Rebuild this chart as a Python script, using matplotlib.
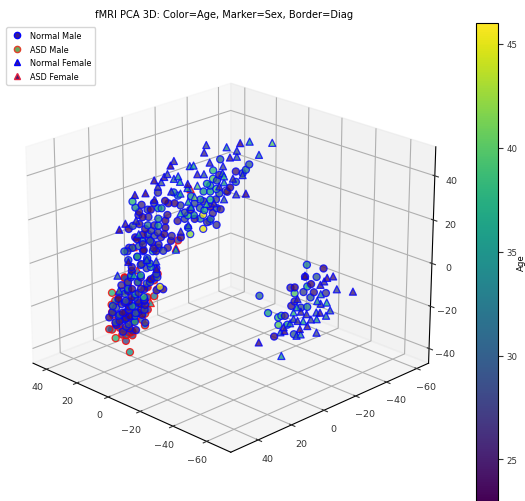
import matplotlib
matplotlib.use('Agg')
import matplotlib.pyplot as plt
from matplotlib.lines import Line2D

# normal female
nf_x = [-1.7,-1.4,-8.0,-12.2,-14.9,-21.6,-17.6,-2.7,-9.0,-11.2,
        -11.2,8.0,9.1,3.4,2.1,6.5,10.0,11.0,14.1,11.8,
        12.9,8.1,6.4,3.7,0.8,-1.2,-6.8,-6.5,-9.8,-12.7,
        -7.4,0.8,-7.4,-5.5,3.9,20.0,16.5,14.1,8.8,6.2,
        1.6,3.5,2.7,-1.7,-4.3,-7.4,-10.8,-13.7,24.9,23.1,
        19.5,6.3,3.5,19.0,6.2,24.4,23.6,20.5,19.2,15.2,
        12.4,12.2,6.2,-32.4,-39.1,-40.8,-37.0,-38.3,-42.2,-47.2,
        -37.3,-29.9,-36.2,-39.1,-37.3,-40.3,-35.7,-37.0,-38.8,-34.4,
        -36.0,-29.6,-31.1,-28.6,-33.2,-30.1,-31.6,-27.5,-25.5,-24.5,
        -26.0,-36.0,-31.1,-29.6,-18.0,-25.2,-28.6,-30.6,-32.7]
nf_y = [-2,-1,-8,-12,-15,-22,-18,-3,-9,-11,
        -11,8,9,3,2,7,10,11,14,12,
        13,8,6,4,1,-1,-7,-7,-10,-13,
        -7,1,-7,-6,4,20,17,14,9,6,
        2,4,3,-2,-4,-7,-11,-14,25,23,
        20,6,4,19,6,27,27,24,22,18,
        15,15,9,-32,-39,-41,-37,-38,-42,-47,
        -37,-30,-36,-39,-37,-40,-36,-37,-39,-34,
        -36,-30,-31,-29,-33,-30,-32,-28,-26,-25,
        -26,-36,-31,-30,-18,-25,-29,-31,-33]
nf_z = [52.1,48.9,51.2,53.1,53.7,53.1,47.7,44.2,46.6,49.7,
        47.0,45.0,42.9,42.6,42.9,38.2,39.1,37.8,36.2,35.5,
        33.4,36.9,35.5,34.7,39.1,39.1,42.6,39.4,37.0,38.6,
        38.2,33.9,35.5,33.4,32.8,29.6,30.5,27.4,31.2,30.2,
        28.8,26.7,24.3,25.5,25.9,27.8,29.9,30.2,13.7,16.4,
        18.0,21.2,15.9,11.6,12.8,-6.9,-13.7,-0.2,-6.6,0.6,
        -0.2,-3.7,5.3,-7.4,-8.5,-7.9,-11.8,-10.1,-13.8,-14.9,
        -16.1,-18.5,-19.3,-20.1,-20.6,-23.7,-24.9,-24.9,-26.4,-28.0,
        -28.0,-22.5,-24.4,-24.9,-31.2,-28.8,-29.1,-30.1,-32.0,-34.4,
        -33.6,-34.4,-35.2,-36.0,-39.1,-45.5,-28.0,-32.8,-25.7]
nf_age = [28,26,33,24,35,40,32,27,25,29,
          30,26,23,33,36,34,28,25,24,29,
          27,31,36,25,26,30,28,32,27,29,
          38,40,35,26,34,24,23,25,28,38,
          41,37,35,39,26,30,28,24,23,25,
          27,38,30,33,26,30,33,24,37,31,
          29,25,36,24,24,25,25,26,28,25,
          33,26,34,37,27,30,30,25,32,28,
          34,35,26,38,25,27,36,32,26,31,
          24,28,33,30,24,35,29,24,27]

# normal male
nm_x = [-6.1,-14.7,-13.7,-12.7,-3.8,-3.7,-5.1,-3.0,-7.6,-8.4,
        -3.0,-4.7,-0.9,2.7,-3.0,-5.5,-4.5,-6.3,-0.6,-3.2,
        -2.5,-0.6,-4.8,3.4,3.7,7.1,7.8,9.6,12.9,11.8,
        20.5,19.8,18.0,16.4,17.5,15.9,12.9,10.3,10.6,12.9,
        14.4,10.6,13.2,17.0,16.4,20.2,14.4,18.0,14.9,12.9,
        10.3,12.9,21.0,22.1,16.4,2.1,0.4,-1.4,0.1,6.7,
        10.6,8.3,12.9,3.7,4.7,6.2,3.2,27.0,26.0,24.6,
        23.1,21.6,20.0,18.5,17.0,15.4,24.1,22.6,21.0,19.5,
        18.0,16.4,25.1,23.6,22.1,20.5,19.0,21.0,19.2,15.7,
        15.9,21.0,19.5,18.0,17.0,21.0,23.1,22.1,24.1,25.6,
        20.0,19.5,20.5,21.0,18.0,16.4,14.9,13.4,11.8,13.7,
        12.4,15.4,17.0,12.4,10.3,11.3,10.0,13.9,16.4,18.0,
        21.9,12.4,-32.5,-37.8,-32.4,-35.6,-18.3,-20.7,-24.0,-24.2,
        -27.5,-29.1,-29.1,-31.6,-32.9,-34.2,-35.0,-38.5,-34.0,-28.1,
        -31.1,-33.0,-29.1,-22.6,-28.9,-26.8,-25.0,-26.2,
        24.7,23.1,21.6,20.1,18.5,17.0,15.5,23.6,22.1,20.6,
        19.0,17.5,16.0,22.1,20.6,19.0,17.5,16.0,14.4,12.9,
        21.1,20.1,17.0,13.9,12.4,16.5,15.0,20.6,18.0,16.5,
        21.6,18.5,22.6,20.6,16.0,19.5,18.0,14.4,12.9,16.0,
        18.5,15.4,14.4,19.0,22.1,20.5,18.5,17.5,15.4,12.4,
        11.3,15.9,19.0,9.3,8.8,4.7,1.6,0.1,-0.9,-3.0,
        1.6,-2.0,-5.5,-10.6,-10.6,-9.1,-5.0,-3.5,-2.0,6.2]
nm_y = [-6,-15,-14,-13,-4,-4,-5,-3,-8,-8,
        -3,-5,-1,3,-3,-6,-5,-6,-1,-3,
        -3,-1,-5,3,4,7,8,10,13,12,
        21,20,18,16,18,16,13,10,11,13,
        14,11,13,17,16,20,14,18,15,13,
        10,13,21,22,16,2,0,-1,0,7,
        11,8,13,4,5,6,3,30,29,28,
        26,25,23,22,20,18,27,26,24,23,
        21,19,28,27,25,24,22,24,22,19,
        19,24,23,21,20,24,26,25,27,29,
        23,23,24,24,21,19,18,16,15,17,
        15,18,20,15,13,14,13,17,19,21,
        25,15,-33,-38,-32,-36,-18,-21,-24,-24,
        -28,-29,-29,-32,-33,-34,-35,-39,-34,-28,
        -31,-33,-29,-23,-29,-27,-25,-26,
        28,26,25,23,22,20,19,27,25,24,
        22,21,19,25,24,22,21,19,17,16,
        24,23,20,17,15,20,18,24,21,20,
        25,22,26,24,19,23,21,17,16,19,
        19,15,14,19,22,21,19,18,15,12,
        11,16,19,9,9,5,2,0,-1,-3,
        2,-2,-6,-11,-11,-9,-5,-4,-2,6]
nm_z = [45.8,43.4,41.0,39.4,40.7,36.9,36.2,33.9,31.5,31.2,
        31.2,32.3,31.2,29.1,27.5,30.2,27.5,23.2,20.4,18.8,
        17.5,14.0,15.9,11.6,14.8,17.7,25.9,25.9,23.6,23.6,
        26.7,23.9,25.1,22.8,19.6,19.6,18.8,20.4,18.0,15.6,
        15.6,14.8,12.4,14.0,11.6,10.1,10.9,8.5,7.7,6.9,
        5.3,5.3,5.3,5.3,15.6,20.4,23.6,22.8,27.5,29.4,
        27.0,30.7,30.7,20.4,21.6,24.8,22.8,-26.4,-24.0,-21.7,
        -20.1,-18.5,-16.9,-15.3,-12.9,-10.5,-25.6,-24.0,-22.5,-20.9,
        -18.5,-16.9,-28.8,-28.0,-27.2,-25.6,-25.6,-29.6,-28.5,-28.8,
        -18.5,-12.9,-12.9,-9.8,-6.6,-9.8,-11.3,-15.3,-17.7,-20.9,
        -6.6,-2.6,0.6,4.5,2.1,4.5,1.4,4.5,-7.4,-2.6,
        -3.4,-3.4,-1.8,-13.7,-13.2,-12.1,4.8,9.3,7.7,10.1,
        4.5,4.5,-2.6,-4.2,-7.9,-8.2,-16.9,-25.2,-27.2,-30.7,
        -13.3,-13.0,-15.8,-15.3,-12.6,-11.4,-15.3,-15.8,-17.7,-21.7,
        -22.5,-22.2,-19.6,-36.4,-35.2,-30.7,-26.4,-26.4,
        -29.8,-27.4,-26.6,-25.8,-24.2,-22.7,-20.3,-25.0,-24.2,-22.7,
        -21.1,-19.5,-17.9,-19.5,-18.7,-17.1,-14.7,-13.1,-9.9,-7.6,
        -13.9,-7.6,-7.6,-8.4,-6.0,-1.2,0.4,-21.1,-24.2,-25.0,
        -30.6,-32.2,-33.0,-31.4,-22.7,-4.4,1.9,-1.2,5.9,5.1,
        22.0,22.8,25.9,20.4,14.0,15.6,16.4,11.6,13.2,10.1,
        11.6,9.3,6.1,8.5,10.9,18.8,18.8,18.8,26.7,24.3,
        25.9,34.7,38.6,40.2,35.5,33.1,23.6,21.2,17.2,10.1]
nm_age = [31,30,32,29,38,40,30,34,45,24,
          36,39,35,34,37,30,28,26,45,31,
          38,45,27,42,34,25,24,24,36,34,
          38,33,26,28,24,26,33,25,24,34,
          26,24,27,25,30,24,28,33,24,26,
          25,34,29,26,32,34,30,35,33,36,
          24,33,27,38,29,28,26,24,26,28,
          27,29,24,35,26,30,34,24,28,33,
          26,38,29,25,31,24,33,28,36,27,
          25,33,24,30,37,28,26,31,24,29,
          35,25,30,27,36,26,32,38,31,34,
          25,28,39,27,24,45,28,30,26,24,
          31,25,33,24,25,30,31,36,38,40,
          26,24,40,28,37,24,25,27,30,25,
          29,33,26,24,30,36,38,26,
          25,27,24,26,29,24,25,28,24,26,
          30,24,27,25,24,29,26,24,31,25,
          24,27,25,24,29,26,24,25,30,24,
          27,24,26,25,28,24,26,32,25,24,
          25,24,27,26,24,29,25,24,28,26,
          24,25,30,24,26,28,25,33,26,24,
          29,36,26,25,31,24,30,26,27,24]

# asd male
am_x = [6.9,21.6,25.3,21.9,15.7,15.9,20.7,19.8,26.4,27.2,
        23.6,19.5,26.4,26.0,21.9,11.6,12.9,15.1,17.0,26.2,
        22.6,24.1,19.0,20.5,14.9,17.5,25.1,19.0,
        23.8,25.2,23.1,21.6,19.8,16.5,15.0,12.9,11.9,23.6,
        22.6,21.1,25.7,24.1,22.1,14.4,12.4]
am_y = [7,23,28,25,19,19,24,23,29,30,
        27,23,29,29,25,15,16,18,20,29,
        26,27,22,24,18,21,28,22,
        27,28,26,25,23,20,18,16,15,27,
        26,24,29,27,25,17,15]
am_z = [8.8,-43.4,-36.3,-37.5,-24.5,-30.1,-33.6,-34.8,-32.3,-32.0,
        -31.2,-28.5,-20.5,-14.8,-7.9,-5.8,-8.9,-16.9,-20.1,-24.0,
        -32.0,-26.9,-27.5,-20.1,-12.1,-9.8,-18.5,-24.0,
        -29.8,-29.0,-34.6,-34.6,-33.0,-27.4,-22.7,-16.3,-13.1,-15.5,
        -13.9,-10.8,-25.0,-18.7,-7.6,-9.2,-6.8]
am_age = [27,35,38,28,33,31,26,27,30,29,
          26,25,35,38,28,30,27,26,33,31,
          25,37,27,34,24,36,33,26,
          28,33,26,30,25,29,27,32,24,28,
          30,26,35,27,29,24,31]

# asd female
af_x = [14.1,19.2,18.0,3.0,6.2,24.6]
af_y = [17,22,21,3,9,28]
af_z = [-19.6,6.4,-4.2,32.3,6.1,-28.8]
af_age = [34,38,30,32,40,28]

x_ticks = [-60, -40, -20, 0, 20, 40]
y_ticks = [-60, -40, -20, 0, 20, 40]
z_ticks = [-40, -20, 0, 20, 40]
cb_ticks = [25, 30, 35, 40, 45]

fig = plt.figure(figsize=(5.25, 5.02), dpi=100)
ax = fig.add_axes([-0.022, 0.024, 0.90, 0.90], projection='3d', computed_zorder=False)
ax.set_box_aspect((4, 4, 3.28))
ax.view_init(elev=22.1, azim=135)

kw = dict(cmap='viridis', vmin=23, vmax=46, s=26, alpha=0.8, linewidths=0.9, depthshade=False)
ax.scatter(am_x, am_y, am_z, c=am_age, marker='o', edgecolors='red', **kw)
ax.scatter(af_x, af_y, af_z, c=af_age, marker='^', edgecolors='red', **kw)
ax.scatter(nm_x, nm_y, nm_z, c=nm_age, marker='o', edgecolors='blue', **kw)
sc = ax.scatter(nf_x, nf_y, nf_z, c=nf_age, marker='^', edgecolors='blue', **kw)

ax.set_xlim(-74, 49)
ax.set_ylim(-68, 56)
ax.set_zlim(-47, 53)
ax.set_xticks(x_ticks)
ax.set_yticks(y_ticks)
ax.set_zticks(z_ticks)
ax.tick_params(labelsize=6.8, colors='#333333')
ax.tick_params(axis='x', pad=-0.5)
ax.tick_params(axis='y', pad=-0.5)
ax.tick_params(axis='z', pad=-1)

fig.suptitle('fMRI PCA 3D: Color=Age, Marker=Sex, Border=Diag', x=224/525, y=1-15/502,
             fontsize=7.1, va='center')

handles = [
    Line2D([], [], ls='', marker='o', ms=4.5, mfc='#3a1c8c', mec='blue', label='Normal Male'),
    Line2D([], [], ls='', marker='o', ms=4.5, mfc='#6aa860', mec='#e0402a', label='ASD Male'),
    Line2D([], [], ls='', marker='^', ms=4.5, mfc='#3a1c8c', mec='blue', label='Normal Female'),
    Line2D([], [], ls='', marker='^', ms=4.5, mfc='#4a1c6c', mec='#e02040', label='ASD Female'),
]
fig.legend(handles=handles, loc='upper left', bbox_to_anchor=(6/525, 1-28/502), borderaxespad=0,
           fontsize=5.9, labelspacing=0.55, handletextpad=0.7, borderpad=0.5, handlelength=1.7)

cax = fig.add_axes([476/525, 0, 22/525, 478/502])
cb = fig.colorbar(sc, cax=cax)
cb.solids.set_alpha(1)
cb.set_ticks(cb_ticks)
cb.ax.tick_params(labelsize=6.2, colors='#333333', pad=2.5)
cb.set_label('Age', fontsize=6.2, labelpad=0)
fig.savefig('out.png', dpi=100)
